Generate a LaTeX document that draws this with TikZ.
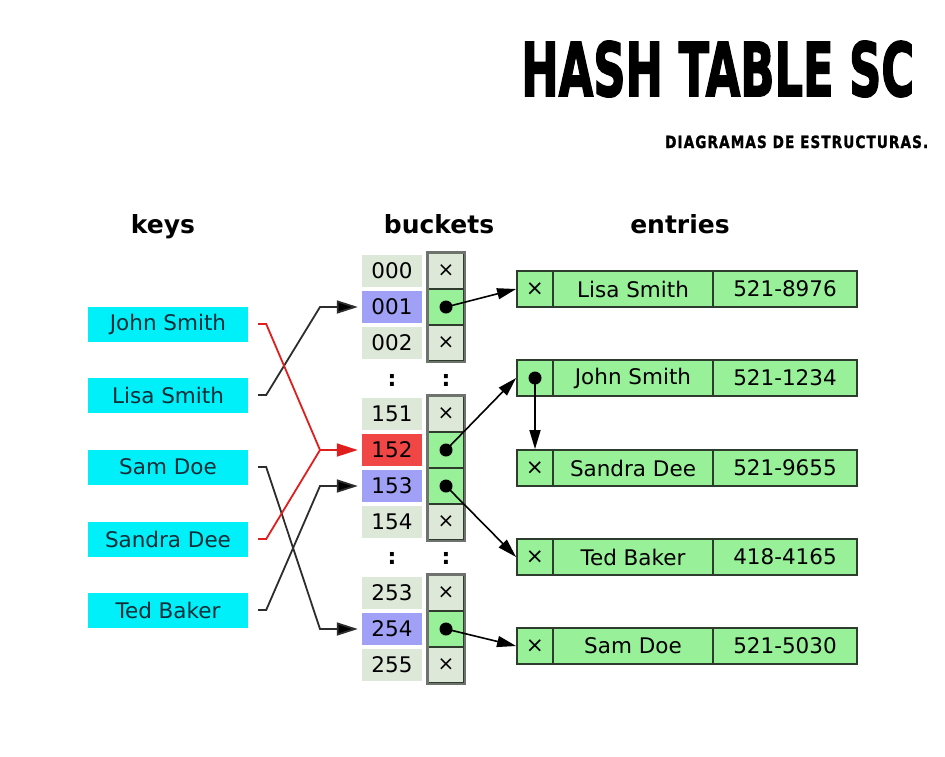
\documentclass[tikz,border=0pt]{standalone}
\usepackage{fontspec}
\setmainfont{DejaVu Sans}
\newfontfamily\titlefont{DejaVu Sans}[BoldFeatures={FakeBold=2.5}]
\newfontfamily\subfont{DejaVu Sans}[LetterSpace=8,BoldFeatures={FakeBold=1.5}]
\usetikzlibrary{arrows.meta}
\definecolor{keycyan}{RGB}{0,240,250}
\definecolor{keytext}{RGB}{15,45,55}
\definecolor{bucketbg}{RGB}{221,232,217}
\definecolor{bucketblue}{RGB}{160,160,246}
\definecolor{bucketred}{RGB}{240,70,70}
\definecolor{cellgreen}{RGB}{152,240,152}
\definecolor{celledge}{RGB}{45,60,45}
\definecolor{colborder}{RGB}{110,115,110}
\definecolor{connred}{RGB}{225,30,30}
\definecolor{conngray}{RGB}{45,45,45}
\begin{document}
\begin{tikzpicture}[x=1pt,y=-1pt,
  key/.style={fill=keycyan, text=keytext, minimum width=160pt, minimum height=35pt, inner sep=0pt, font=\fontsize{21.5}{24}\selectfont},
  lbl/.style={fill=bucketbg, text={RGB,255:red,25;green,25;blue,25}, minimum width=60pt, minimum height=32pt, inner sep=0pt, font=\fontsize{21.5}{24}\selectfont},
  ptr/.style={fill=bucketbg, draw=celledge, line width=1.6pt, minimum width=36pt, minimum height=36pt, inner sep=0pt, font=\fontsize{20}{24}\selectfont},
  ptrfull/.style={ptr, fill=cellgreen},
  ecell/.style={fill=cellgreen, draw=celledge, line width=1.8pt, minimum height=36pt, inner sep=0pt, font=\fontsize{21.5}{24}\selectfont},
  hdr/.style={font=\fontsize{25}{28}\selectfont\bfseries, anchor=base, inner sep=0pt},
  colon/.style={font=\fontsize{22}{24}\selectfont\bfseries, inner sep=0pt},
  conn/.style={draw=conngray, line width=1.8pt, -{Triangle[length=21pt,width=13pt,fill=black]}},
  redconn/.style={draw=connred, line width=1.8pt, -{Triangle[length=21pt,width=13pt,fill=connred]}},
  parrow/.style={draw=black, line width=1.6pt, -{Triangle[length=19pt,width=11pt,fill=black]}},
  vdot/.style={fill=black}
]
\useasboundingbox (0,0) rectangle (945,756);
\fill[white] (0,0) rectangle (945,756);

% title
\node[anchor=base west, inner sep=0pt] (title) at (521,96)
  {\resizebox{393pt}{55pt}{\titlefont\bfseries HASH TABLE SC}};
\node[anchor=base west, inner sep=0pt] (subtitle) at (665,148)
  {\resizebox{263pt}{12.5pt}{\subfont\bfseries DIAGRAMAS DE ESTRUCTURAS.}};

% headers
\node[hdr] (hkeys) at (163,233) {keys};
\node[hdr] (hbuckets) at (439,233) {buckets};
\node[hdr] (hentries) at (680,233) {entries};

% keys
\node[key] (kjohn) at (168,324) {John Smith};
\node[key] (klisa) at (168,395) {Lisa Smith};
\node[key] (ksam) at (168,467) {Sam Doe};
\node[key] (ksandra) at (168,539) {Sandra Dee};
\node[key] (kted) at (168,610) {Ted Baker};

% bucket labels
\node[lbl] (b000) at (392,271) {000};
\node[lbl, fill=bucketblue, text={RGB,255:red,20;green,20;blue,70}] (b001) at (392,307) {001};
\node[lbl] (b002) at (392,343) {002};
\node[lbl] (b151) at (392,414) {151};
\node[lbl, fill=bucketred, text={RGB,255:red,60;green,10;blue,10}] (b152) at (392,450) {152};
\node[lbl, fill=bucketblue, text={RGB,255:red,20;green,20;blue,70}] (b153) at (392,486) {153};
\node[lbl] (b154) at (392,522) {154};
\node[lbl] (b253) at (392,593) {253};
\node[lbl, fill=bucketblue, text={RGB,255:red,20;green,20;blue,70}] (b254) at (392,629) {254};
\node[lbl] (b255) at (392,665) {255};

% pointer cells
\node[ptr] (p000) at (446,271) {×};
\node[ptrfull] (p001) at (446,307) {};
\node[ptr] (p002) at (446,343) {×};
\node[ptr] (p151) at (446,414) {×};
\node[ptrfull] (p152) at (446,450) {};
\node[ptrfull] (p153) at (446,486) {};
\node[ptr] (p154) at (446,522) {×};
\node[ptr] (p253) at (446,593) {×};
\node[ptrfull] (p254) at (446,629) {};
\node[ptr] (p255) at (446,665) {×};
\draw[colborder, line width=2.6pt] (p000.north west) rectangle (p002.south east);
\draw[colborder, line width=2.6pt] (p151.north west) rectangle (p154.south east);
\draw[colborder, line width=2.6pt] (p253.north west) rectangle (p255.south east);

% colons
\node[colon] (c1a) at (392,380) {:};
\node[colon] (c1b) at (446,380) {:};
\node[colon] (c2a) at (392,558) {:};
\node[colon] (c2b) at (446,558) {:};

% entries
\node[ecell, minimum width=36pt] (e1a) at (535,289) {×};
\node[ecell, minimum width=160pt] (e1b) at (633,289) {Lisa Smith};
\node[ecell, minimum width=144pt] (e1c) at (785,289) {521-8976};
\node[ecell, minimum width=36pt] (e2a) at (535,378) {};
\node[ecell, minimum width=160pt] (e2b) at (633,378) {John Smith};
\node[ecell, minimum width=144pt] (e2c) at (785,378) {521-1234};
\node[ecell, minimum width=36pt] (e3a) at (535,468) {×};
\node[ecell, minimum width=160pt] (e3b) at (633,468) {Sandra Dee};
\node[ecell, minimum width=144pt] (e3c) at (785,468) {521-9655};
\node[ecell, minimum width=36pt] (e4a) at (535,557) {×};
\node[ecell, minimum width=160pt] (e4b) at (633,557) {Ted Baker};
\node[ecell, minimum width=144pt] (e4c) at (785,557) {418-4165};
\node[ecell, minimum width=36pt] (e5a) at (535,646) {×};
\node[ecell, minimum width=160pt] (e5b) at (633,646) {Sam Doe};
\node[ecell, minimum width=144pt] (e5c) at (785,646) {521-5030};

% bend points of key connectors
\coordinate (m001) at (320,307);
\coordinate (m152) at (320,450);
\coordinate (m153) at (320,486);
\coordinate (m254) at (320,629);

% key connectors
\draw[conn] ([xshift=10pt]klisa.east) -- ++(8pt,0) -- (m001) -- ([xshift=-4pt]b001.west);
\draw[conn] ([xshift=10pt]ksam.east) -- ++(8pt,0) -- (m254) -- ([xshift=-4pt]b254.west);
\draw[conn] ([xshift=10pt]kted.east) -- ++(8pt,0) -- (m153) -- ([xshift=-4pt]b153.west);
\draw[connred, line width=1.8pt] ([xshift=10pt]ksandra.east) -- ++(8pt,0) -- (m152);
\draw[redconn] ([xshift=10pt]kjohn.east) -- ++(8pt,0) -- (m152) -- ([xshift=-4pt]b152.west);

% pointer arrows
\fill[vdot] (p001.center) circle (6.5pt);
\fill[vdot] (p152.center) circle (6.5pt);
\fill[vdot] (p153.center) circle (6.5pt);
\fill[vdot] (p254.center) circle (6.5pt);
\fill[vdot] (e2a.center) circle (6.5pt);
\draw[parrow] (p001.center) -- (e1a.west);
\draw[parrow] (p152.center) -- (e2a.west);
\draw[parrow] (p153.center) -- (e4a.west);
\draw[parrow] (p254.center) -- (e5a.west);
\draw[parrow, draw={RGB,255:red,70;green,75;blue,70}] (e2a.center) -- (e3a.north);
\end{tikzpicture}
\end{document}
